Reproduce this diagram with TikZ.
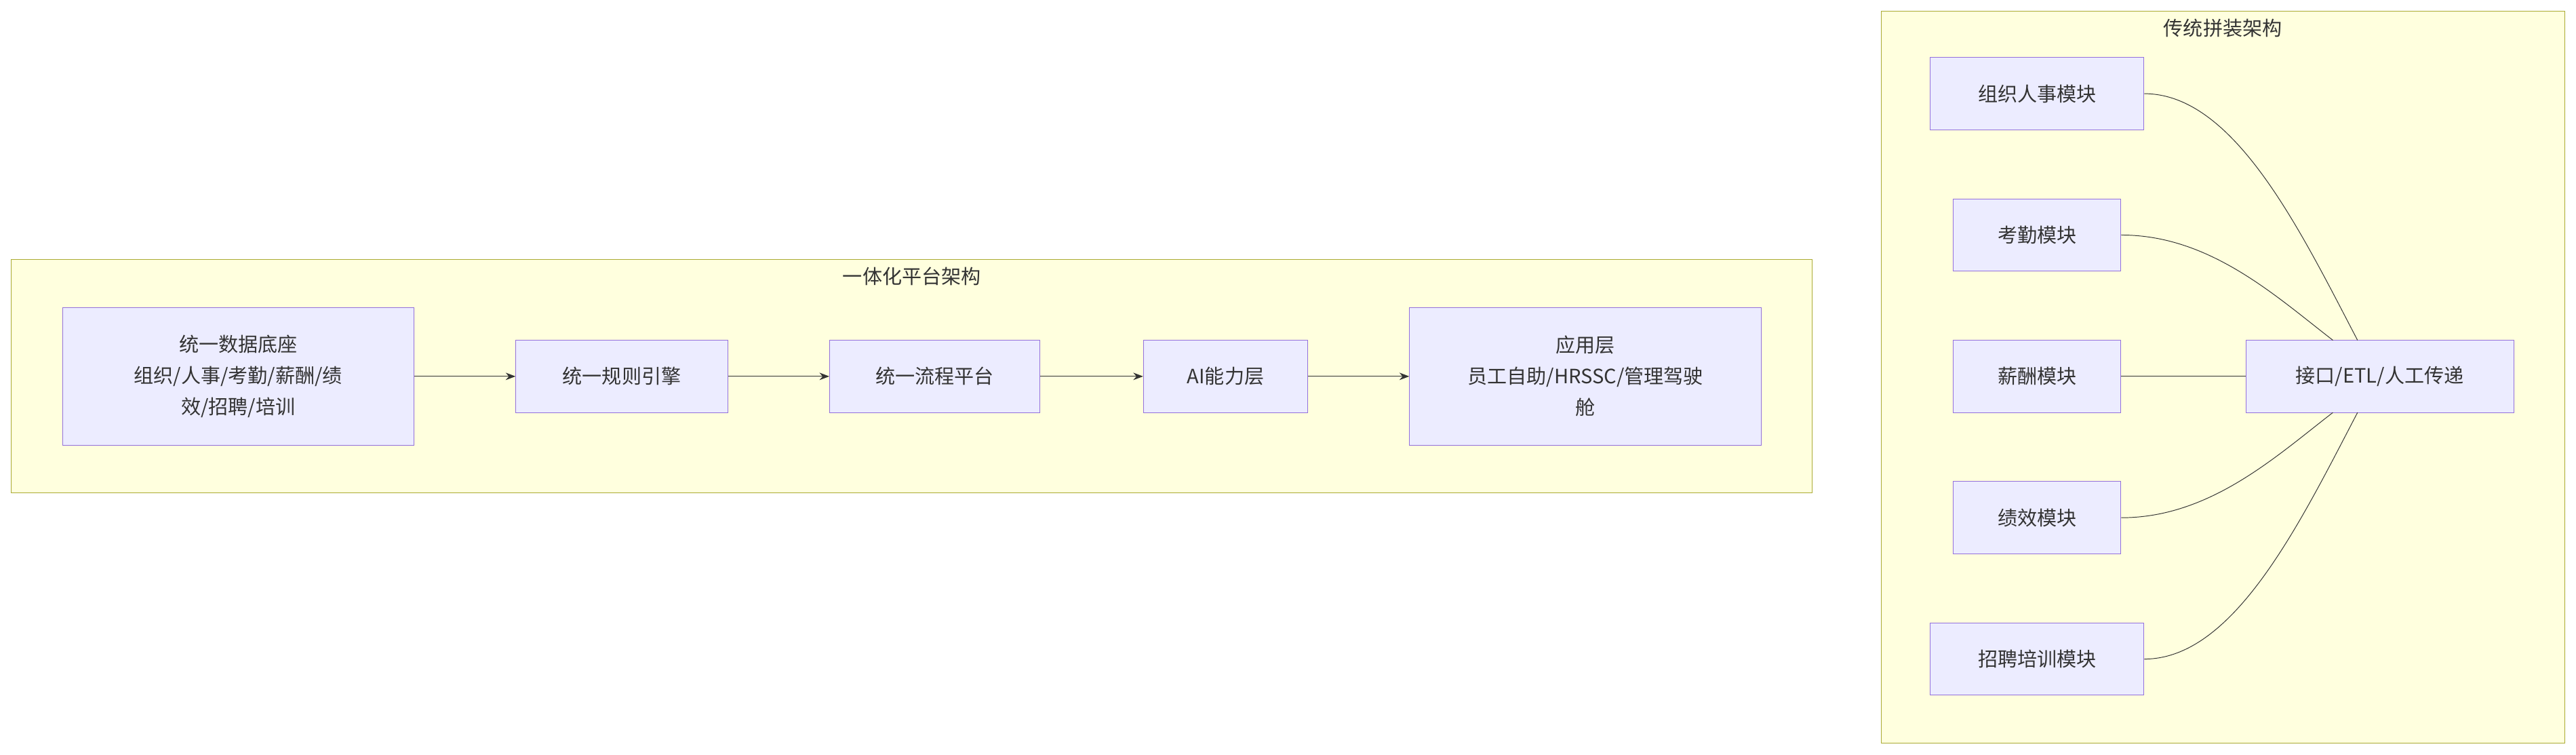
\documentclass[tikz,border=0pt]{standalone}
\usepackage{fontspec}
\setmainfont{Noto Sans CJK SC}
\definecolor{boxfill}{HTML}{ECECFF}
\definecolor{boxline}{HTML}{9370DB}
\definecolor{grpfill}{HTML}{FFFFDE}
\definecolor{grpline}{HTML}{AAAA33}
\definecolor{ink}{HTML}{333333}
\usetikzlibrary{arrows.meta}
\tikzset{
  blk/.style={draw=boxline, fill=boxfill, align=center, text=ink, font=\fontsize{12pt}{19pt}\selectfont},
  grp/.style={draw=grpline, fill=grpfill},
  flow/.style={draw=ink, -{Stealth[length=6pt]}},
  link/.style={draw=ink}
}
\begin{document}
\begin{tikzpicture}[x=1pt,y=-1pt]
\useasboundingbox (0,0) rectangle (1568,459);
% groups
\draw [grp] (7,158) rectangle (1103,300);
\node [text=ink, font=\fontsize{12pt}{14pt}\selectfont] (t1) at (555,168) {一体化平台架构};
\draw [grp] (1145,7) rectangle (1561,452);
\node [text=ink, font=\fontsize{12pt}{14pt}\selectfont] (t2) at (1353,17) {传统拼装架构};

% platform
\node [blk, minimum width=214pt, minimum height=84pt] (base) at (145,229) {统一数据底座\\组织/人事/考勤/薪酬/绩\\效/招聘/培训};
\node [blk, minimum width=129pt, minimum height=44pt] (rule) at (378.5,229) {统一规则引擎};
\node [blk, minimum width=128pt, minimum height=44pt] (proc) at (569,229) {统一流程平台};
\node [blk, minimum width=100pt, minimum height=44pt] (ai) at (746,229) {AI能力层};
\node [blk, minimum width=214pt, minimum height=84pt] (app) at (965,229) {应用层\\员工自助/HRSSC/管理驾驶\\舱};
\draw [flow] (base) -- (rule);
\draw [flow] (rule) -- (proc);
\draw [flow] (proc) -- (ai);
\draw [flow] (ai) -- (app);

% traditional
\node [blk, minimum width=130pt, minimum height=44pt] (org) at (1240,57) {组织人事模块};
\node [blk, minimum width=102pt, minimum height=44pt] (att) at (1240,143) {考勤模块};
\node [blk, minimum width=102pt, minimum height=44pt] (pay) at (1240,229) {薪酬模块};
\node [blk, minimum width=102pt, minimum height=44pt] (perf) at (1240,315) {绩效模块};
\node [blk, minimum width=130pt, minimum height=44pt] (rec) at (1240,401) {招聘培训模块};
\node [blk, minimum width=163pt, minimum height=44pt] (hub) at (1448.5,229) {接口/ETL/人工传递};
\coordinate (h1) at (1435,207);
\coordinate (h2) at (1420,207);
\coordinate (h4) at (1420,251);
\coordinate (h5) at (1435,251);
\draw [link] (org.east) .. controls (1360,57) and (1400,140) .. (h1);
\draw [link] (att.east) .. controls (1345,143) and (1385,180) .. (h2);
\draw [link] (pay) -- (hub);
\draw [link] (perf.east) .. controls (1345,315) and (1385,278) .. (h4);
\draw [link] (rec.east) .. controls (1360,401) and (1400,318) .. (h5);
\end{tikzpicture}
\end{document}
